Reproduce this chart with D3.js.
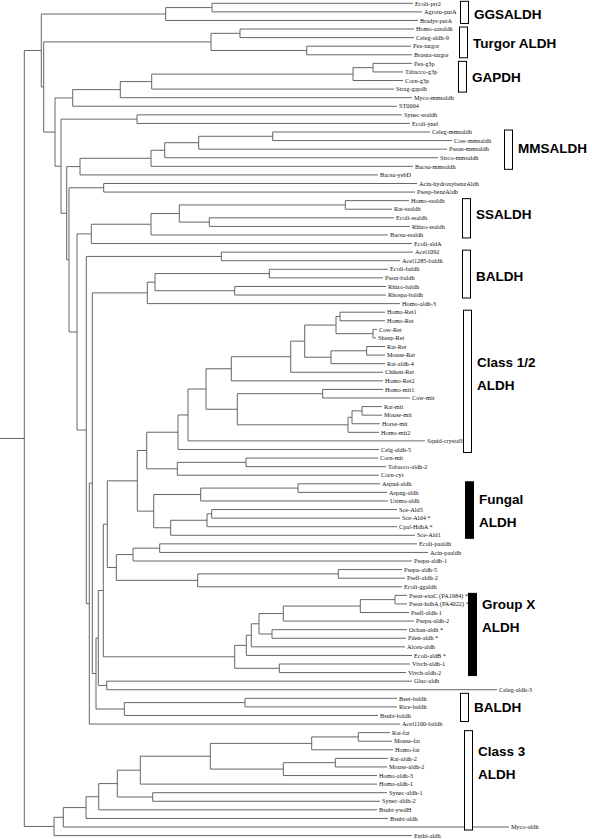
<!DOCTYPE html>
<html><head><meta charset="utf-8">
<script src="https://cdn.jsdelivr.net/npm/d3@7"></script>
<style>body{margin:0;background:#fff}svg{display:block}</style>
</head><body>
<script>
// ---------------- DATA ----------------
const leafNames = [
 "Ecoli-prr2","Agrotu-putA","Bradyr-putA","Homo-aasaldh","Celeg-aldh-9","Pea-turgor","Brasna-turgor",
 "Pea-g3p","Tabacco-g3p","Corn-g3p","Strag-gapdh","Myco-mmsaldh","ST0064","Synec-ssaldh","Ecoli-ynel",
 "Celeg-mmsaldh","Cow-mmsaldh","Psean-mmsaldh","Strco-mmsaldh","Bacsu-mmsaldh","Bacsu-yebD",
 "Acin-hydroxybenzAldh","Psesp-benzAldh","Homo-ssaldh","Rat-ssaldh","Ecoli-ssaldh","Rhizo-ssaldh",
 "Bacsu-ssaldh","Ecoli-aldA","Acel1092","Acel1285-baldh","Ecoli-baldh","Psear-baldh","Rhizo-baldh",
 "Rhospa-baldh","Homo-aldh-3","Homo-Ret1","Homo-Ret","Cow-Ret","Sheep-Ret","Rat-Ret","Mouse-Ret",
 "Rat-aldh-4","Chiken-Ret","Homo-Ret2","Homo-mit1","Cow-mit","Rat-mit","Mouse-mit","Horse-mit",
 "Homo-mit2","Squid-crystallin","Celg-aldh-5","Corn-mit","Tobacco-aldh-2","Corn-cyt","Aspnd-aldh",
 "Aspng-aldh","Ustma-aldh","Sce-Ald5","Sce-Ald4 *","Cpal-HdhA *","Sce-Ald1","Ecoli-paaldh",
 "Acin-paaldh","Psepu-aldh-1","Psepu-aldh-5","Psefl-aldh-2","Ecoli-ggaldh","Psear-exaC (PA1984) *",
 "Psear-hdhA (PA4022) *","Psefl-aldh-1","Psepu-aldh-2","Ochan-aldh *","Pden-aldh *","Alceu-aldh",
 "Ecoli-aldB *","Vivch-aldh-1","Vivch-aldh-2","Gluc-aldh","Celeg-aldh-3","Beet-baldh","Rice-baldh",
 "Bsubt-baldh","Acel1100-baldh","Rat-fat","Mouse-fat","Homo-fat","Rat-aldh-2","Mouse-aldh-2",
 "Homo-aldh-3","Homo-aldh-1","Synec-aldh-1","Synec-aldh-2","Bsubt-ywdH","Bsubt-aldh","Myco-aldh",
 "Enthi-aldh"];

// distance of each leaf tip from the left edge (tree units)
const leafDepth = [
 413,422,418,414,414,411,412,
 412,403,403,394,412,397,402,410,
 430,452,447,438,413,378,
 417,415,409,392,394,410,
 388,412,413,400,388,383,386,
 386,400,385,385,377,376,385,385,
 385,383,383,383,410,382,382,380,
 379,425,379,378,386,379,380,
 387,388,397,400,397,415,417,
 428,412,402,405,402,407,
 407,409,414,407,406,405,
 412,410,406,412,497,397,397,
 378,400,390,392,393,388,387,
 377,377,387,380,377,388,509,
 412];

// topology: leaf indices, internal nodes carry their distance from the left edge
const cladeGGS    = "((0,1):212,2):165.7";
const cladeTurgor = "((3,4):240,(5,6):306.7):211";
const cladeGAPDH  = "(((((7,8):373,9):353,10):151.7,11):120.3,12):72.7";
const cladeMMS    = "(((((15,16):272.7,17):198.7,18):164.7,19):151,20):80";
const cladeSS     = "((((23,24):345.3,(25,26):209.3):179.3,27):151,28):91.3";
const cladeBAL1   = "(((31,32):269.3,(33,34):234.7):155,35):147.3";
const cladeC12    = "(((((((((36,37):340,(38,39):373):336,((40,41):366.7,42):331):304.7,43):290.7,44):231.3,((45,46):322.7,(((47,48):362,49):352,50):348):237.3):206,51):188,52):178,((53,54):246,55):177.3):146.7";
const cladeFungal = "(((56,57):298,58):200.7,(((59,60):211.7,61):207,62):170.7):153.7";
const cladePA     = "(((63,64):159.7,65):133,((66,67):338.3,68):197.7):116.3";
const cladeGX     = "(((((((69,70):395,71):360.3,72):283.3,(73,74):272):259,75):251.3,76):246.3,(77,78):279.3):234.7";
const cladeBAL2   = "((81,82):245,83):124.3";
const cladeC3     = "(((((((((85,86):358.3,87):311.7,((88,89):335.3,90):283.3):210.3,91):140.3,(92,93):152.7):117.3,94):98.7,95):86,96):63.3,97):54";

const topology =
 "((" + cladeGGS + ",(" + cladeTurgor + ",(" + cladeGAPDH + ",((13,14):137,(" + cladeMMS +
 ",((21,22):103.7,(" + cladeSS + ",((29,30):221.3,((" + cladeBAL1 + ",(((((" + cladeC12 + "," + cladeFungal +
 "):137.3," + cladePA + "):107.3," + cladeGX + "):103.3,(79,80):106.7):98.3," + cladeBAL2 +
 "):96):92.3,84):89.3):86.3):77):69):66.7):61):55):43.7):41.3," + cladeC3 + "):24.3";

const groupLines = [["GGSALDH"],["Turgor ALDH"],["GAPDH"],["MMSALDH"],["SSALDH"],["BALDH"],
  ["Class 1/2","ALDH"],["Fungal","ALDH"],["Group X","ALDH"],["BALDH"],["Class 3","ALDH"]];
const groupFirstLeaf = [0,3,7,15,23,29,36,56,69,81,85];
const groupLastLeaf  = [2,6,10,19,27,34,52,62,78,83,96];
const groupSolid     = [false,false,false,false,false,false,false,true,true,false,false];

// ---------------- LAYOUT / STYLE ----------------
const W = 592, H = 839;
const bracketX  = [460,459,458,504,462,462,463,465,468,460,464];
const labelBase = [19,48,82,153,219,281,367,504,609,712,756];
const padTop    = [2,2,2,2,2,2,2,2,2,5,2];
const padBottom = [3,3,3,3,3,3,3,3,3,6,3];

function parse(s){
  let i = 0;
  function num(){
    if (s[i] === ':') i++;
    const m = /^[0-9.]+/.exec(s.slice(i));
    i += m[0].length; return +m[0];
  }
  function node(){
    if (s[i] === '('){
      i++;
      const children = [node()];
      while (s[i] === ','){ i++; children.push(node()); }
      i++; // ')'
      return {children, depth: num()};
    }
    return {leaf: num()};
  }
  return node();
}

const root = d3.hierarchy(parse(topology), d => d.children);
const x = d3.scaleLinear().domain([0, W]).range([0, W]);
const y = d3.scaleLinear().domain([0, leafNames.length - 1]).range([3.3, 835.6]);

root.eachAfter(n => {
  if (n.children){
    n.px = x(n.data.depth);
    n.py = (n.children[0].py + n.children[n.children.length-1].py) / 2;
  } else {
    n.px = x(leafDepth[n.data.leaf]);
    n.py = y(n.data.leaf);
  }
});

const svg = d3.select("body").append("svg").attr("width", W).attr("height", H);
const g = svg.append("g");
const stroke = "#666";

g.append("line").attr("x1", x(0)).attr("x2", root.px).attr("y1", root.py).attr("y2", root.py)
  .attr("stroke", stroke);

g.selectAll("line.h").data(root.descendants().filter(d => d.parent)).join("line")
  .attr("class","h")
  .attr("x1", d => d.parent.px).attr("x2", d => d.px)
  .attr("y1", d => d.py).attr("y2", d => d.py)
  .attr("stroke", stroke).attr("stroke-width", 1);

g.selectAll("line.v").data(root.descendants().filter(d => d.children)).join("line")
  .attr("class","v")
  .attr("x1", d => d.px).attr("x2", d => d.px)
  .attr("y1", d => d.children[0].py).attr("y2", d => d.children[d.children.length-1].py)
  .attr("stroke", stroke).attr("stroke-width", 1);

g.selectAll("text.leaf").data(root.leaves()).join("text")
  .attr("class","leaf")
  .attr("x", d => d.px + 2).attr("y", d => d.py + 2.2)
  .attr("font-family", "Liberation Serif, DejaVu Serif, serif")
  .attr("font-size", 6.3).attr("fill", "#111")
  .text(d => leafNames[d.data.leaf]);

const grp = svg.append("g");
groupLines.forEach((lines, k) => {
  const y0 = y(groupFirstLeaf[k]) - padTop[k], y1 = y(groupLastLeaf[k]) + padBottom[k];
  grp.append("rect").attr("x", bracketX[k] + 0.5).attr("y", y0).attr("width", 8).attr("height", y1 - y0)
    .attr("fill", groupSolid[k] ? "#000" : "#fff").attr("stroke", "#000").attr("stroke-width", 1);
  lines.forEach((t, j) => {
    grp.append("text").attr("x", bracketX[k] + 14).attr("y", labelBase[k] + j * 23)
      .attr("font-family", "Liberation Sans, Arial, sans-serif").attr("font-weight", "bold")
      .attr("font-size", 13.5).attr("fill", "#000").text(t);
  });
});
</script>
</body></html>
